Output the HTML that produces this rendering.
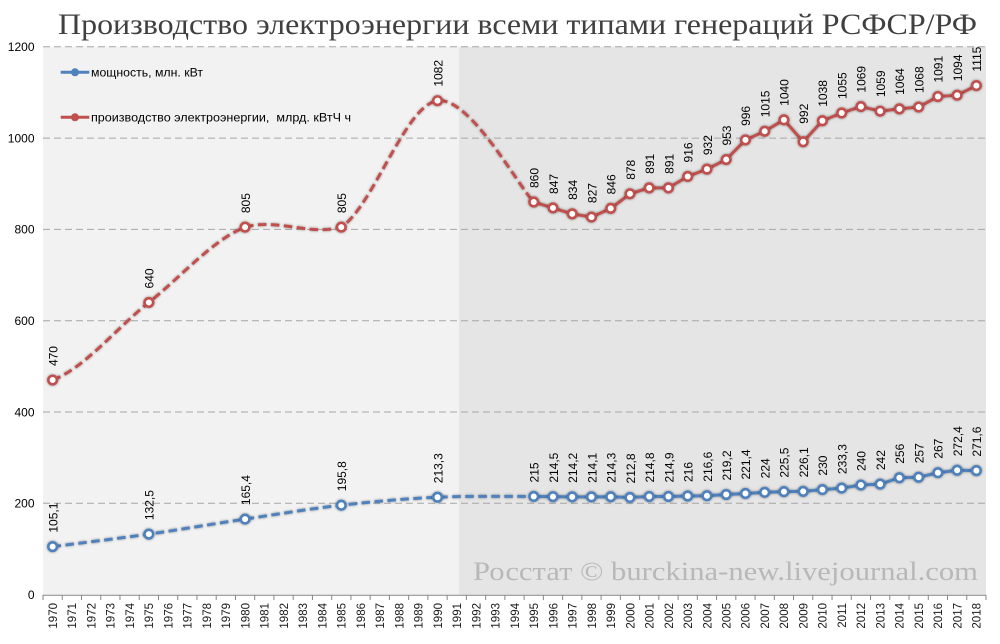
<!DOCTYPE html>
<html><head><meta charset="utf-8"><style>
html,body{margin:0;padding:0;background:#fff;}
svg{display:block;}
.t{font-family:"Liberation Sans","Noto Sans CJK SC",sans-serif;font-size:12px;fill:#000;}
.x{font-family:"Liberation Sans","Noto Sans CJK SC",sans-serif;font-size:11.5px;fill:#1a1a1a;text-anchor:end;}
</style></head><body>
<svg width="1000" height="644" viewBox="0 0 1000 644" xmlns="http://www.w3.org/2000/svg">
<defs>
<filter id="sh" x="-20%" y="-20%" width="140%" height="140%">
<feDropShadow dx="0" dy="0" stdDeviation="1.3" flood-color="#000" flood-opacity="0.45"/>
</filter>
</defs>
<rect width="1000" height="644" fill="#fff"/>
<rect x="43" y="46.8" width="416" height="547.8" fill="#f2f2f2"/>
<rect x="459" y="46.8" width="527" height="547.8" fill="#e5e5e5"/>

<text x="58" y="34" font-family="'Liberation Serif','Noto Serif CJK SC',serif" font-size="30" fill="#404040" textLength="919" lengthAdjust="spacingAndGlyphs">Производство электроэнергии всеми типами генераций РСФСР/РФ</text>

<g stroke="#a6a6a6" stroke-width="1" stroke-dasharray="7,4" fill="none">
<line x1="43" y1="46.8" x2="986" y2="46.8"/>
<line x1="43" y1="138.1" x2="986" y2="138.1"/>
<line x1="43" y1="229.4" x2="986" y2="229.4"/>
<line x1="43" y1="320.7" x2="986" y2="320.7"/>
<line x1="43" y1="412.0" x2="986" y2="412.0"/>
<line x1="43" y1="503.3" x2="986" y2="503.3"/>
</g>

<text x="978" y="580" font-family="'Liberation Serif',serif" font-size="26" fill="#b8b8b8" text-anchor="end" textLength="505" lengthAdjust="spacingAndGlyphs">Росстат © burckina-new.livejournal.com</text>

<line x1="43" y1="595.3" x2="986" y2="595.3" stroke="#868686" stroke-width="1"/>
<path stroke="#868686" stroke-width="1" fill="none" d="M43,595V600M62.25,595V600M81.49,595V600M100.74,595V600M119.98,595V600M139.23,595V600M158.47,595V600M177.72,595V600M196.96,595V600M216.21,595V600M235.45,595V600M254.70,595V600M273.94,595V600M293.19,595V600M312.43,595V600M331.68,595V600M350.92,595V600M370.17,595V600M389.41,595V600M408.66,595V600M427.90,595V600M447.15,595V600M466.39,595V600M485.64,595V600M504.88,595V600M524.13,595V600M543.37,595V600M562.62,595V600M581.86,595V600M601.11,595V600M620.35,595V600M639.60,595V600M658.84,595V600M678.09,595V600M697.33,595V600M716.58,595V600M735.82,595V600M755.07,595V600M774.31,595V600M793.56,595V600M812.80,595V600M832.05,595V600M851.29,595V600M870.54,595V600M889.78,595V600M909.03,595V600M928.27,595V600M947.52,595V600M966.76,595V600M986.01,595V600"/>

<g class="t" text-anchor="end">
<text x="34.5" y="51.1">1200</text>
<text x="34.5" y="142.4">1000</text>
<text x="34.5" y="233.7">800</text>
<text x="34.5" y="325.0">600</text>
<text x="34.5" y="416.3">400</text>
<text x="34.5" y="507.6">200</text>
<text x="34.5" y="598.9">0</text>
</g>

<g class="x">
<text transform="translate(56.92,603) rotate(-90)">1970</text>
<text transform="translate(76.17,603) rotate(-90)">1971</text>
<text transform="translate(95.41,603) rotate(-90)">1972</text>
<text transform="translate(114.66,603) rotate(-90)">1973</text>
<text transform="translate(133.90,603) rotate(-90)">1974</text>
<text transform="translate(153.15,603) rotate(-90)">1975</text>
<text transform="translate(172.39,603) rotate(-90)">1976</text>
<text transform="translate(191.64,603) rotate(-90)">1977</text>
<text transform="translate(210.88,603) rotate(-90)">1978</text>
<text transform="translate(230.13,603) rotate(-90)">1979</text>
<text transform="translate(249.37,603) rotate(-90)">1980</text>
<text transform="translate(268.62,603) rotate(-90)">1981</text>
<text transform="translate(287.86,603) rotate(-90)">1982</text>
<text transform="translate(307.11,603) rotate(-90)">1983</text>
<text transform="translate(326.35,603) rotate(-90)">1984</text>
<text transform="translate(345.60,603) rotate(-90)">1985</text>
<text transform="translate(364.84,603) rotate(-90)">1986</text>
<text transform="translate(384.09,603) rotate(-90)">1987</text>
<text transform="translate(403.33,603) rotate(-90)">1988</text>
<text transform="translate(422.58,603) rotate(-90)">1989</text>
<text transform="translate(441.82,603) rotate(-90)">1990</text>
<text transform="translate(461.07,603) rotate(-90)">1991</text>
<text transform="translate(480.31,603) rotate(-90)">1992</text>
<text transform="translate(499.56,603) rotate(-90)">1993</text>
<text transform="translate(518.80,603) rotate(-90)">1994</text>
<text transform="translate(538.05,603) rotate(-90)">1995</text>
<text transform="translate(557.29,603) rotate(-90)">1996</text>
<text transform="translate(576.54,603) rotate(-90)">1997</text>
<text transform="translate(595.78,603) rotate(-90)">1998</text>
<text transform="translate(615.03,603) rotate(-90)">1999</text>
<text transform="translate(634.27,603) rotate(-90)">2000</text>
<text transform="translate(653.52,603) rotate(-90)">2001</text>
<text transform="translate(672.76,603) rotate(-90)">2002</text>
<text transform="translate(692.01,603) rotate(-90)">2003</text>
<text transform="translate(711.25,603) rotate(-90)">2004</text>
<text transform="translate(730.50,603) rotate(-90)">2005</text>
<text transform="translate(749.74,603) rotate(-90)">2006</text>
<text transform="translate(768.99,603) rotate(-90)">2007</text>
<text transform="translate(788.23,603) rotate(-90)">2008</text>
<text transform="translate(807.48,603) rotate(-90)">2009</text>
<text transform="translate(826.72,603) rotate(-90)">2010</text>
<text transform="translate(845.97,603) rotate(-90)">2011</text>
<text transform="translate(865.21,603) rotate(-90)">2012</text>
<text transform="translate(884.46,603) rotate(-90)">2013</text>
<text transform="translate(903.70,603) rotate(-90)">2014</text>
<text transform="translate(922.95,603) rotate(-90)">2015</text>
<text transform="translate(942.19,603) rotate(-90)">2016</text>
<text transform="translate(961.44,603) rotate(-90)">2017</text>
<text transform="translate(980.68,603) rotate(-90)">2018</text>
</g>

<!-- Blue series -->
<g filter="url(#sh)">
<path fill="none" stroke="#4f81bd" stroke-width="3" stroke-dasharray="8.5,4.5" d="M52.62,546.62 C68.66,544.54 116.77,538.70 148.85,534.11 C180.93,529.52 212.99,523.91 245.07,519.09 C277.15,514.28 309.22,508.86 341.30,505.22 C373.38,501.58 405.44,498.69 437.52,497.23 C469.60,495.77 517.71,496.58 533.75,496.45"/>
<polyline fill="none" stroke="#4f81bd" stroke-width="3" stroke-linejoin="round" points="533.75,496.45 552.99,496.68 572.24,496.82 591.48,496.86 610.73,496.77 629.97,497.46 649.22,496.54 668.46,496.50 687.71,496.00 706.95,495.72 726.20,494.54 745.44,493.53 764.69,492.34 783.93,491.66 803.18,491.39 822.42,489.60 841.67,488.10 860.91,485.04 880.16,484.13 899.40,477.74 918.65,477.28 937.89,472.71 957.14,470.25 976.38,470.61"/>
</g>
<g filter="url(#sh)" fill="#fff" stroke="#4f81bd" stroke-width="2.6">
<circle cx="52.62" cy="546.62" r="4.3"/><circle cx="148.85" cy="534.11" r="4.3"/><circle cx="245.07" cy="519.09" r="4.3"/><circle cx="341.30" cy="505.22" r="4.3"/><circle cx="437.52" cy="497.23" r="4.3"/>
<circle cx="533.75" cy="496.45" r="4.3"/><circle cx="552.99" cy="496.68" r="4.3"/><circle cx="572.24" cy="496.82" r="4.3"/><circle cx="591.48" cy="496.86" r="4.3"/><circle cx="610.73" cy="496.77" r="4.3"/><circle cx="629.97" cy="497.46" r="4.3"/><circle cx="649.22" cy="496.54" r="4.3"/><circle cx="668.46" cy="496.50" r="4.3"/><circle cx="687.71" cy="496.00" r="4.3"/><circle cx="706.95" cy="495.72" r="4.3"/><circle cx="726.20" cy="494.54" r="4.3"/><circle cx="745.44" cy="493.53" r="4.3"/><circle cx="764.69" cy="492.34" r="4.3"/><circle cx="783.93" cy="491.66" r="4.3"/><circle cx="803.18" cy="491.39" r="4.3"/><circle cx="822.42" cy="489.60" r="4.3"/><circle cx="841.67" cy="488.10" r="4.3"/><circle cx="860.91" cy="485.04" r="4.3"/><circle cx="880.16" cy="484.13" r="4.3"/><circle cx="899.40" cy="477.74" r="4.3"/><circle cx="918.65" cy="477.28" r="4.3"/><circle cx="937.89" cy="472.71" r="4.3"/><circle cx="957.14" cy="470.25" r="4.3"/><circle cx="976.38" cy="470.61" r="4.3"/>
</g>

<!-- Red series -->
<g filter="url(#sh)">
<path fill="none" stroke="#c0504d" stroke-width="3" stroke-dasharray="8.5,4.5" d="M52.62,380.04 C84.70,368.00 116.77,327.93 148.85,302.44 C180.93,276.95 212.99,239.67 245.07,227.12 C277.15,218.00 309.22,236.00 341.30,227.12 C373.38,206.04 405.44,104.86 437.52,100.67 C469.60,96.48 517.71,185.12 533.75,202.01"/>
<polyline fill="none" stroke="#c0504d" stroke-width="3" stroke-linejoin="round" points="533.75,202.01 552.99,207.94 572.24,213.88 591.48,217.07 610.73,208.40 629.97,193.79 649.22,187.86 668.46,187.86 687.71,176.45 706.95,169.14 726.20,159.56 745.44,139.93 764.69,131.25 783.93,119.84 803.18,141.75 822.42,120.75 841.67,112.99 860.91,106.60 880.16,111.17 899.40,108.88 918.65,107.06 937.89,96.56 957.14,95.19 976.38,85.60"/>
</g>
<g filter="url(#sh)" fill="#fff" stroke="#c0504d" stroke-width="2.6">
<circle cx="52.62" cy="380.04" r="4.3"/><circle cx="148.85" cy="302.44" r="4.3"/><circle cx="245.07" cy="227.12" r="4.3"/><circle cx="341.30" cy="227.12" r="4.3"/><circle cx="437.52" cy="100.67" r="4.3"/>
<circle cx="533.75" cy="202.01" r="4.3"/><circle cx="552.99" cy="207.94" r="4.3"/><circle cx="572.24" cy="213.88" r="4.3"/><circle cx="591.48" cy="217.07" r="4.3"/><circle cx="610.73" cy="208.40" r="4.3"/><circle cx="629.97" cy="193.79" r="4.3"/><circle cx="649.22" cy="187.86" r="4.3"/><circle cx="668.46" cy="187.86" r="4.3"/><circle cx="687.71" cy="176.45" r="4.3"/><circle cx="706.95" cy="169.14" r="4.3"/><circle cx="726.20" cy="159.56" r="4.3"/><circle cx="745.44" cy="139.93" r="4.3"/><circle cx="764.69" cy="131.25" r="4.3"/><circle cx="783.93" cy="119.84" r="4.3"/><circle cx="803.18" cy="141.75" r="4.3"/><circle cx="822.42" cy="120.75" r="4.3"/><circle cx="841.67" cy="112.99" r="4.3"/><circle cx="860.91" cy="106.60" r="4.3"/><circle cx="880.16" cy="111.17" r="4.3"/><circle cx="899.40" cy="108.88" r="4.3"/><circle cx="918.65" cy="107.06" r="4.3"/><circle cx="937.89" cy="96.56" r="4.3"/><circle cx="957.14" cy="95.19" r="4.3"/><circle cx="976.38" cy="85.60" r="4.3"/>
</g>

<!-- Red labels -->
<g class="t">
<text transform="translate(57.42,366.04) rotate(-90)">470</text>
<text transform="translate(153.65,288.44) rotate(-90)">640</text>
<text transform="translate(249.87,213.12) rotate(-90)">805</text>
<text transform="translate(346.10,213.12) rotate(-90)">805</text>
<text transform="translate(442.32,86.67) rotate(-90)">1082</text>
<text transform="translate(538.55,188.01) rotate(-90)">860</text>
<text transform="translate(557.79,193.94) rotate(-90)">847</text>
<text transform="translate(577.04,199.88) rotate(-90)">834</text>
<text transform="translate(596.28,203.07) rotate(-90)">827</text>
<text transform="translate(615.53,194.40) rotate(-90)">846</text>
<text transform="translate(634.77,179.79) rotate(-90)">878</text>
<text transform="translate(654.02,173.86) rotate(-90)">891</text>
<text transform="translate(673.26,173.86) rotate(-90)">891</text>
<text transform="translate(692.51,162.45) rotate(-90)">916</text>
<text transform="translate(711.75,155.14) rotate(-90)">932</text>
<text transform="translate(731.00,145.56) rotate(-90)">953</text>
<text transform="translate(750.24,125.93) rotate(-90)">996</text>
<text transform="translate(769.49,117.25) rotate(-90)">1015</text>
<text transform="translate(788.73,105.84) rotate(-90)">1040</text>
<text transform="translate(807.98,123.75) rotate(-90)">992</text>
<text transform="translate(827.22,106.75) rotate(-90)">1038</text>
<text transform="translate(846.47,98.99) rotate(-90)">1055</text>
<text transform="translate(865.71,92.60) rotate(-90)">1069</text>
<text transform="translate(884.96,97.17) rotate(-90)">1059</text>
<text transform="translate(904.20,94.88) rotate(-90)">1064</text>
<text transform="translate(923.45,93.06) rotate(-90)">1068</text>
<text transform="translate(942.69,82.56) rotate(-90)">1091</text>
<text transform="translate(961.94,81.19) rotate(-90)">1094</text>
<text transform="translate(981.18,71.60) rotate(-90)">1115</text>
</g>

<!-- Blue labels -->
<g class="t">
<text transform="translate(57.42,532.62) rotate(-90)">105,1</text>
<text transform="translate(153.65,520.11) rotate(-90)">132,5</text>
<text transform="translate(249.87,505.09) rotate(-90)">165,4</text>
<text transform="translate(346.10,491.22) rotate(-90)">195,8</text>
<text transform="translate(442.32,483.23) rotate(-90)">213,3</text>
<text transform="translate(538.55,482.45) rotate(-90)">215</text>
<text transform="translate(557.79,482.68) rotate(-90)">214,5</text>
<text transform="translate(577.04,482.82) rotate(-90)">214,2</text>
<text transform="translate(596.28,482.86) rotate(-90)">214,1</text>
<text transform="translate(615.53,482.77) rotate(-90)">214,3</text>
<text transform="translate(634.77,483.46) rotate(-90)">212,8</text>
<text transform="translate(654.02,482.54) rotate(-90)">214,8</text>
<text transform="translate(673.26,482.50) rotate(-90)">214,9</text>
<text transform="translate(692.51,482.00) rotate(-90)">216</text>
<text transform="translate(711.75,481.72) rotate(-90)">216,6</text>
<text transform="translate(731.00,480.54) rotate(-90)">219,2</text>
<text transform="translate(750.24,479.53) rotate(-90)">221,4</text>
<text transform="translate(769.49,478.34) rotate(-90)">224</text>
<text transform="translate(788.73,477.66) rotate(-90)">225,5</text>
<text transform="translate(807.98,477.39) rotate(-90)">226,1</text>
<text transform="translate(827.22,475.60) rotate(-90)">230</text>
<text transform="translate(846.47,474.10) rotate(-90)">233,3</text>
<text transform="translate(865.71,471.04) rotate(-90)">240</text>
<text transform="translate(884.96,470.13) rotate(-90)">242</text>
<text transform="translate(904.20,463.74) rotate(-90)">256</text>
<text transform="translate(923.45,463.28) rotate(-90)">257</text>
<text transform="translate(942.69,458.71) rotate(-90)">267</text>
<text transform="translate(961.94,456.25) rotate(-90)">272,4</text>
<text transform="translate(981.18,456.61) rotate(-90)">271,6</text>
</g>

<!-- Legend -->
<line x1="60.7" y1="72.3" x2="89.3" y2="72.3" stroke="#4f81bd" stroke-width="3"/>
<circle cx="75" cy="72.3" r="4" fill="#4f81bd"/>
<text class="t" x="91" y="76.6" textLength="112" lengthAdjust="spacingAndGlyphs">мощность, млн. кВт</text>
<line x1="60.7" y1="117.3" x2="89.3" y2="117.3" stroke="#c0504d" stroke-width="3"/>
<circle cx="75" cy="117.3" r="4" fill="#c0504d"/>
<text class="t" x="91" y="121.6" style="white-space:pre" textLength="260" lengthAdjust="spacingAndGlyphs">производство электроэнергии,  млрд. кВтЧ ч</text>
</svg>
</body></html>
